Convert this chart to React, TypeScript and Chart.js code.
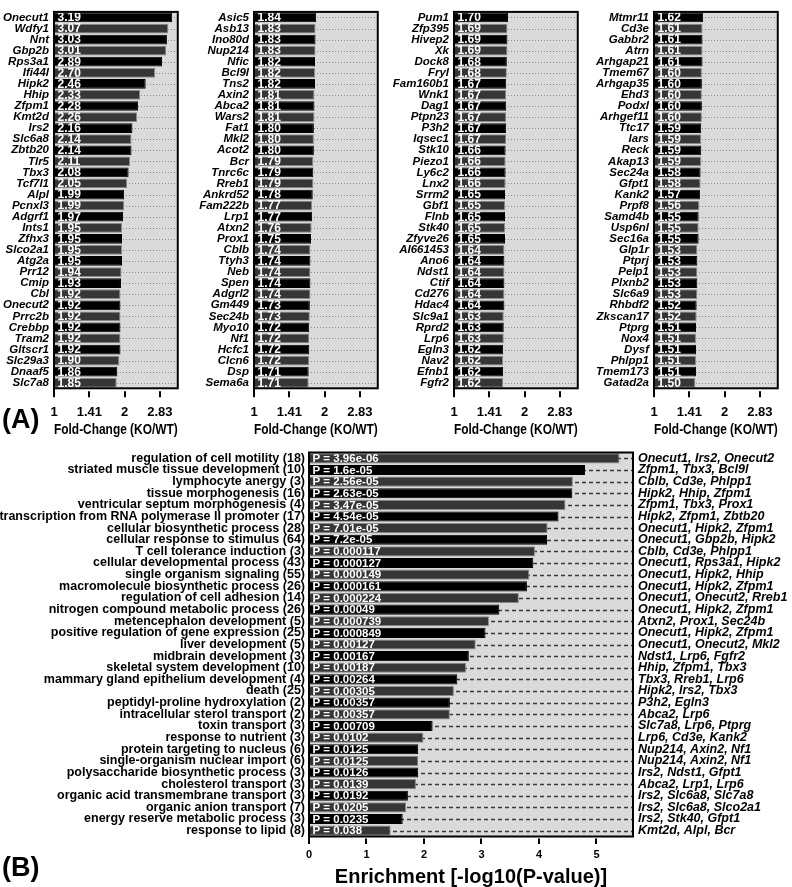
import React, { useEffect, useRef } from 'react';
import { Chart, registerables } from 'chart.js';

Chart.register(...registerables);

const FONT = "'Liberation Sans', Arial, Helvetica, sans-serif";

// ---------- Panel A data ----------
const genesA1 = ['Onecut1', 'Wdfy1', 'Nnt', 'Gbp2b', 'Rps3a1', 'Ifi44l', 'Hipk2', 'Hhip', 'Zfpm1', 'Kmt2d', 'Irs2', 'Slc6a8', 'Zbtb20', 'Tlr5', 'Tbx3', 'Tcf7l1', 'Alpl', 'Pcnxl3', 'Adgrf1', 'Ints1', 'Zfhx3', 'Slco2a1', 'Atg2a', 'Prr12', 'Cmip', 'Cbl', 'Onecut2', 'Prrc2b', 'Crebbp', 'Tram2', 'Gltscr1', 'Slc29a3', 'Dnaaf5', 'Slc7a8'];
const foldA1 = [3.19, 3.07, 3.03, 3.01, 2.89, 2.70, 2.46, 2.33, 2.28, 2.26, 2.16, 2.14, 2.14, 2.11, 2.08, 2.05, 1.99, 1.99, 1.97, 1.95, 1.95, 1.95, 1.95, 1.94, 1.93, 1.92, 1.92, 1.92, 1.92, 1.92, 1.92, 1.90, 1.86, 1.85];

const genesA2 = ['Asic5', 'Asb13', 'Ino80d', 'Nup214', 'Nfic', 'Bcl9l', 'Tns2', 'Axin2', 'Abca2', 'Wars2', 'Fat1', 'Mkl2', 'Acot2', 'Bcr', 'Tnrc6c', 'Rreb1', 'Ankrd52', 'Fam222b', 'Lrp1', 'Atxn2', 'Prox1', 'Cblb', 'Ttyh3', 'Neb', 'Spen', 'Adgrl2', 'Gm449', 'Sec24b', 'Myo10', 'Nf1', 'Hcfc1', 'Clcn6', 'Dsp', 'Sema6a'];
const foldA2 = [1.84, 1.83, 1.83, 1.83, 1.82, 1.82, 1.82, 1.81, 1.81, 1.81, 1.80, 1.80, 1.80, 1.79, 1.79, 1.79, 1.78, 1.77, 1.77, 1.76, 1.75, 1.74, 1.74, 1.74, 1.74, 1.74, 1.73, 1.73, 1.72, 1.72, 1.72, 1.72, 1.71, 1.71];

const genesA3 = ['Pum1', 'Zfp395', 'Hivep2', 'Xk', 'Dock8', 'Fryl', 'Fam160b1', 'Wnk1', 'Dag1', 'Ptpn23', 'P3h2', 'Iqsec1', 'Stk10', 'Piezo1', 'Ly6c2', 'Lnx2', 'Srrm2', 'Gbf1', 'Flnb', 'Stk40', 'Zfyve26', 'AI661453', 'Ano6', 'Ndst1', 'Ctif', 'Cd276', 'Hdac4', 'Slc9a1', 'Rprd2', 'Lrp6', 'Egln3', 'Nav2', 'Efnb1', 'Fgfr2'];
const foldA3 = [1.70, 1.69, 1.69, 1.69, 1.68, 1.68, 1.67, 1.67, 1.67, 1.67, 1.67, 1.67, 1.66, 1.66, 1.66, 1.66, 1.65, 1.65, 1.65, 1.65, 1.65, 1.64, 1.64, 1.64, 1.64, 1.64, 1.64, 1.63, 1.63, 1.63, 1.62, 1.62, 1.62, 1.62];

const genesA4 = ['Mtmr11', 'Cd3e', 'Gabbr2', 'Atrn', 'Arhgap21', 'Tmem67', 'Arhgap35', 'Ehd3', 'Podxl', 'Arhgef11', 'Ttc17', 'Iars', 'Reck', 'Akap13', 'Sec24a', 'Gfpt1', 'Kank2', 'Prpf8', 'Samd4b', 'Usp6nl', 'Sec16a', 'Glp1r', 'Ptprj', 'Pelp1', 'Plxnb2', 'Slc6a9', 'Rhbdf2', 'Zkscan17', 'Ptprg', 'Nox4', 'Dysf', 'Phlpp1', 'Tmem173', 'Gatad2a'];
const foldA4 = [1.62, 1.61, 1.61, 1.61, 1.61, 1.60, 1.60, 1.60, 1.60, 1.60, 1.59, 1.59, 1.59, 1.59, 1.58, 1.58, 1.57, 1.56, 1.55, 1.55, 1.55, 1.53, 1.53, 1.53, 1.53, 1.53, 1.52, 1.52, 1.51, 1.51, 1.51, 1.51, 1.51, 1.50];

const foldTickValues = [1, 1.41421356, 2, 2.82842712];
const foldTickLabels = ['1', '1.41', '2', '2.83'];
const foldAxisMax = 3.37;
const foldAxisTitle = 'Fold-Change (KO/WT)';

// ---------- Panel B data ----------
const goTerms = [
  'regulation of cell motility (18)',
  'striated muscle tissue development (10)',
  'lymphocyte anergy (3)',
  'tissue morphogenesis (16)',
  'ventricular septum morphogenesis (4)',
  'transcription from RNA polymerase II promoter (17)',
  'cellular biosynthetic process (28)',
  'cellular response to stimulus (64)',
  'T cell tolerance induction (3)',
  'cellular developmental process (43)',
  'single organism signaling (55)',
  'macromolecule biosynthetic process (26)',
  'regulation of cell adhesion (14)',
  'nitrogen compound metabolic process (26)',
  'metencephalon development (5)',
  'positive regulation of gene expression (25)',
  'liver development (5)',
  'midbrain development (3)',
  'skeletal system development (10)',
  'mammary gland epithelium development (4)',
  'death (25)',
  'peptidyl-proline hydroxylation (2)',
  'intracellular sterol transport (2)',
  'toxin transport (3)',
  'response to nutrient (3)',
  'protein targeting to nucleus (6)',
  'single-organism nuclear import (6)',
  'polysaccharide biosynthetic process (3)',
  'cholesterol transport (3)',
  'organic acid transmembrane transport (3)',
  'organic anion transport (7)',
  'energy reserve metabolic process (3)',
  'response to lipid (8)',
];
const goPLabels = ['3.96e-06', '1.6e-05', '2.56e-05', '2.63e-05', '3.47e-05', '4.54e-05', '7.01e-05', '7.2e-05', '0.000117', '0.000127', '0.000149', '0.000161', '0.000224', '0.00049', '0.000739', '0.000849', '0.00127', '0.00167', '0.00187', '0.00264', '0.00305', '0.00357', '0.00357', '0.00709', '0.0102', '0.0125', '0.0125', '0.0126', '0.0139', '0.0192', '0.0205', '0.0235', '0.038'];
const goEnrichment = [5.40, 4.80, 4.59, 4.58, 4.46, 4.34, 4.15, 4.14, 3.93, 3.90, 3.83, 3.79, 3.65, 3.31, 3.13, 3.07, 2.90, 2.78, 2.73, 2.58, 2.52, 2.45, 2.45, 2.15, 1.99, 1.90, 1.90, 1.90, 1.86, 1.72, 1.69, 1.63, 1.42];
const goGenes = [
  'Onecut1, Irs2, Onecut2',
  'Zfpm1, Tbx3, Bcl9l',
  'Cblb, Cd3e, Phlpp1',
  'Hipk2, Hhip, Zfpm1',
  'Zfpm1, Tbx3, Prox1',
  'Hipk2, Zfpm1, Zbtb20',
  'Onecut1, Hipk2, Zfpm1',
  'Onecut1, Gbp2b, Hipk2',
  'Cblb, Cd3e, Phlpp1',
  'Onecut1, Rps3a1, Hipk2',
  'Onecut1, Hipk2, Hhip',
  'Onecut1, Hipk2, Zfpm1',
  'Onecut1, Onecut2, Rreb1',
  'Onecut1, Hipk2, Zfpm1',
  'Atxn2, Prox1, Sec24b',
  'Onecut1, Hipk2, Zfpm1',
  'Onecut1, Onecut2, Mkl2',
  'Ndst1, Lrp6, Fgfr2',
  'Hhip, Zfpm1, Tbx3',
  'Tbx3, Rreb1, Lrp6',
  'Hipk2, Irs2, Tbx3',
  'P3h2, Egln3',
  'Abca2, Lrp6',
  'Slc7a8, Lrp6, Ptprg',
  'Lrp6, Cd3e, Kank2',
  'Nup214, Axin2, Nf1',
  'Nup214, Axin2, Nf1',
  'Irs2, Ndst1, Gfpt1',
  'Abca2, Lrp1, Lrp6',
  'Irs2, Slc6a8, Slc7a8',
  'Irs2, Slc6a8, Slco2a1',
  'Irs2, Stk40, Gfpt1',
  'Kmt2d, Alpl, Bcr',
];
const enrichTickValues = [0, 1, 2, 3, 4, 5];
const enrichAxisMax = 5.635;
const enrichAxisTitle = 'Enrichment [-log10(P-value)]';

// ---------- decoration plugin ----------
type DecorCfg = {
  bg: string;
  lineColor: string;
  lineWidth: number;
  dash: number[];
  valueLabels: string[];
  valueFont: string;
  valueOffset: number;
  tickStart: number;
  tickEnd: number;
};

function makeDecor(cfg: DecorCfg) {
  return {
    id: 'decor',
    beforeDatasetsDraw(chart: any) {
      const { ctx, chartArea: a } = chart;
      const yScale = chart.scales.y;
      ctx.save();
      ctx.fillStyle = cfg.bg;
      ctx.fillRect(a.left, a.top, a.right - a.left, a.bottom - a.top);
      ctx.strokeStyle = cfg.lineColor;
      ctx.lineWidth = cfg.lineWidth;
      ctx.setLineDash(cfg.dash);
      const n = chart.data.labels.length;
      for (let i = 0; i < n; i++) {
        const y = Math.round(yScale.getPixelForValue(i)) + 0.5;
        ctx.beginPath();
        ctx.moveTo(a.left, y);
        ctx.lineTo(a.right, y);
        ctx.stroke();
      }
      ctx.restore();
    },
    afterDatasetsDraw(chart: any) {
      const { ctx, chartArea: a } = chart;
      const meta = chart.getDatasetMeta(0);
      ctx.save();
      ctx.font = cfg.valueFont;
      ctx.fillStyle = '#ffffff';
      ctx.textAlign = 'left';
      ctx.textBaseline = 'middle';
      meta.data.forEach((bar: any, i: number) => {
        ctx.fillText(cfg.valueLabels[i], a.left + cfg.valueOffset, bar.y + 0.5);
      });
      ctx.strokeStyle = '#000';
      ctx.lineWidth = 2;
      ctx.setLineDash([]);
      ctx.strokeRect(a.left, a.top, a.right - a.left, a.bottom - a.top);
      ctx.beginPath();
      ctx.moveTo(a.left, a.bottom);
      ctx.lineTo(a.left, a.bottom + cfg.tickEnd);
      const xs = chart.scales.x;
      xs.ticks.forEach((t: any) => {
        const x = Math.round(xs.getPixelForValue(t.value));
        ctx.moveTo(x, a.bottom + cfg.tickStart);
        ctx.lineTo(x, a.bottom + cfg.tickEnd);
      });
      ctx.stroke();
      ctx.restore();
    },
  };
}

// ---------- Panel A column ----------
const A_AXIS_W = 64;
const A_PLOT_W = 132;
const A_H = 440;

function FoldPanel({ genes, values, axisX }: { genes: string[]; values: number[]; axisX: number }) {
  const ref = useRef<HTMLCanvasElement>(null);
  useEffect(() => {
    if (!ref.current) return;
    const chart = new Chart(ref.current, {
      type: 'bar',
      data: {
        labels: genes,
        datasets: [
          {
            data: values,
            backgroundColor: values.map((_, i) => (i % 2 === 0 ? '#000000' : '#363636')),
            borderColor: values.map((_, i) => (i % 2 === 0 ? '#000000' : '#8a8a8a')),
            borderWidth: 1,
            barPercentage: 0.88,
            categoryPercentage: 1,
          },
        ],
      },
      options: {
        indexAxis: 'y',
        animation: false,
        responsive: false,
        maintainAspectRatio: false,
        devicePixelRatio: 1,
        events: [],
        layout: { padding: { top: 2, right: 3, left: 0, bottom: 0 } },
        plugins: { legend: { display: false }, tooltip: { enabled: false } },
        scales: {
          x: {
            type: 'logarithmic',
            min: 1,
            max: foldAxisMax,
            afterBuildTicks: (s: any) => {
              s.ticks = foldTickValues.map((v) => ({ value: v }));
            },
            afterFit: (s: any) => {
              s.height = 51.7;
            },
            ticks: {
              callback: (_v: any, i: number) => foldTickLabels[i],
              font: { family: FONT, size: 13, weight: 'bold' },
              color: '#000',
              padding: 16,
              maxRotation: 0,
              autoSkip: false,
            },
            grid: { display: false, drawTicks: false },
            border: { display: false },
            title: {
              display: true,
              text: foldAxisTitle,
              color: '#000',
              font: { family: FONT, size: 14, weight: 'bold', lineHeight: 1 },
              padding: { top: 0, bottom: 3 },
            },
          },
          y: {
            type: 'category',
            afterFit: (s: any) => {
              s.width = A_AXIS_W;
            },
            ticks: {
              font: { family: FONT, size: 11.5, weight: 'bold', style: 'italic' },
              color: '#000',
              padding: 5,
              autoSkip: false,
            },
            grid: { display: false, drawTicks: false },
            border: { display: false },
          },
        },
      } as any,
      plugins: [
        makeDecor({
          bg: '#dadada',
          lineColor: '#8c8c8c',
          lineWidth: 1,
          dash: [1, 2],
          valueLabels: values.map((v) => v.toFixed(2)),
          valueFont: `bold 12px ${FONT}`,
          valueOffset: 3.5,
          tickStart: 3,
          tickEnd: 9,
        }),
      ],
    });
    return () => chart.destroy();
  }, []);
  const w = A_AXIS_W + A_PLOT_W + 3;
  return (
    <canvas
      ref={ref}
      width={w}
      height={A_H}
      style={{ position: 'absolute', left: axisX - A_AXIS_W, top: 0, width: w, height: A_H }}
    />
  );
}

// ---------- Panel B ----------
const B_TOP = 440;
const B_H = 887 - B_TOP;

function EnrichPanel() {
  const ref = useRef<HTMLCanvasElement>(null);
  useEffect(() => {
    if (!ref.current) return;
    const chart = new Chart(ref.current, {
      type: 'bar',
      data: {
        labels: goTerms,
        datasets: [
          {
            data: goEnrichment,
            backgroundColor: goEnrichment.map((_, i) => (i % 2 === 0 ? '#363636' : '#000000')),
            borderColor: goEnrichment.map((_, i) => (i % 2 === 0 ? '#8a8a8a' : '#000000')),
            borderWidth: 1,
            barPercentage: 0.87,
            categoryPercentage: 1,
          },
        ],
      },
      options: {
        indexAxis: 'y',
        animation: false,
        responsive: false,
        maintainAspectRatio: false,
        devicePixelRatio: 1,
        events: [],
        layout: { padding: { top: 12.5, right: 0, left: 0, bottom: 0 } },
        plugins: { legend: { display: false }, tooltip: { enabled: false } },
        scales: {
          x: {
            type: 'linear',
            min: 0,
            max: enrichAxisMax,
            afterBuildTicks: (s: any) => {
              s.ticks = enrichTickValues.map((v) => ({ value: v }));
            },
            afterFit: (s: any) => {
              s.height = 50.5;
            },
            ticks: {
              callback: (v: any) => String(v),
              font: { family: FONT, size: 11, weight: 'bold' },
              color: '#000',
              padding: 12,
              maxRotation: 0,
              autoSkip: false,
            },
            grid: { display: false, drawTicks: false },
            border: { display: false },
            title: {
              display: true,
              text: enrichAxisTitle,
              color: '#000',
              font: { family: FONT, size: 20, weight: 'bold', lineHeight: 1 },
              padding: { top: 0, bottom: 0 },
            },
          },
          y: {
            type: 'category',
            afterFit: (s: any) => {
              s.width = 309;
            },
            ticks: {
              font: { family: FONT, size: 12.5, weight: 'bold' },
              color: '#000',
              padding: 4,
              autoSkip: false,
            },
            grid: { display: false, drawTicks: false },
            border: { display: false },
          },
          y2: {
            type: 'category',
            position: 'right',
            labels: goGenes,
            offset: true,
            afterFit: (s: any) => {
              s.width = 159;
            },
            ticks: {
              font: { family: FONT, size: 12.5, weight: 'bold', style: 'italic' },
              color: '#000',
              padding: 5,
              autoSkip: false,
            },
            grid: { display: false, drawTicks: false },
            border: { display: false },
          },
        },
      } as any,
      plugins: [
        makeDecor({
          bg: '#dadada',
          lineColor: '#3a3a3a',
          lineWidth: 1.3,
          dash: [4, 3],
          valueLabels: goPLabels.map((p) => 'P = ' + p),
          valueFont: `bold 11.5px ${FONT}`,
          valueOffset: 3.5,
          tickStart: 2,
          tickEnd: 7.5,
        }),
      ],
    });
    return () => chart.destroy();
  }, []);
  return (
    <canvas
      ref={ref}
      width={792}
      height={B_H}
      style={{ position: 'absolute', left: 0, top: B_TOP, width: 792, height: B_H }}
    />
  );
}

const panelLabelStyle: React.CSSProperties = {
  position: 'absolute',
  left: 2,
  fontFamily: FONT,
  fontWeight: 'bold',
  fontSize: 27,
  lineHeight: '27px',
  color: '#000',
};

export default function App() {
  return (
    <div
      style={{
        position: 'absolute',
        left: 0,
        top: 0,
        width: 792,
        height: 887,
        overflow: 'hidden',
        background: '#fff',
      }}
    >
      <FoldPanel genes={genesA1} values={foldA1} axisX={54} />
      <FoldPanel genes={genesA2} values={foldA2} axisX={254} />
      <FoldPanel genes={genesA3} values={foldA3} axisX={454} />
      <FoldPanel genes={genesA4} values={foldA4} axisX={654} />
      <EnrichPanel />
      <div style={{ ...panelLabelStyle, top: 406 }}>(A)</div>
      <div style={{ ...panelLabelStyle, top: 854 }}>(B)</div>
    </div>
  );
}
